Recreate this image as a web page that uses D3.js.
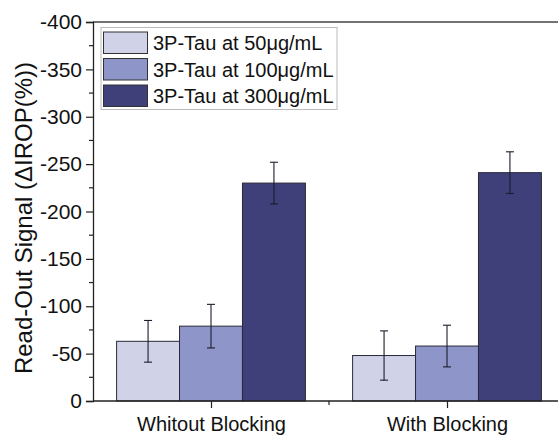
<!DOCTYPE html>
<html>
<head>
<meta charset="utf-8">
<script src="https://cdn.jsdelivr.net/npm/d3@7"></script>
<style>
  html, body { margin: 0; padding: 0; background: #fff; }
  svg { display: block; font-family: "Liberation Sans", Arial, sans-serif; }
</style>
</head>
<body>
<svg id="chart" width="558" height="435"></svg>
<script>
// Groups along the x axis
const groups = ["Whitout Blocking", "With Blocking"];
// Series (one per concentration)
const seriesNames = ["3P-Tau at 50\u03BCg/mL", "3P-Tau at 100\u03BCg/mL", "3P-Tau at 300\u03BCg/mL"];
const seriesColors = ["#d0d2e8", "#8d95c9", "#3f3f7a"];
// Mean read-out signal per group, series order as above
const values50 = [-63, -48];
const values100 = [-79, -58];
const values300 = [-230, -241];
// Error bar half-widths
const errors50 = [22, 26];
const errors100 = [23, 22];
const errors300 = [22, 22];
// Y tick values
const yTicks = [0, -50, -100, -150, -200, -250, -300, -350, -400];

const seriesValues = [values50, values100, values300];
const seriesErrors = [errors50, errors100, errors300];

const svg = d3.select("#chart");
const plotLeft = 93, plotTop = 22, plotBottom = 401, plotRight = 565;
const labelFont = "'Liberation Sans', Arial, sans-serif";

// Reversed y axis: 0 at the bottom, -400 at the top
const y = d3.scaleLinear().domain([0, -400]).range([plotBottom, plotTop]);
// Continuous x position: groups sit at 1 and 2
const x = d3.scaleLinear().domain([0.5, 2.5]).range([plotLeft, plotRight]);
const barW = (x(2) - x(1)) * 0.8 / 3;

// Frame: top line
svg.append("line")
  .attr("x1", plotLeft).attr("x2", plotRight).attr("y1", plotTop).attr("y2", plotTop)
  .attr("stroke", "#444").attr("stroke-width", 1.3);

// Bars
seriesValues.forEach((vals, s) => {
  svg.append("g").selectAll("rect")
    .data(vals)
    .join("rect")
    .attr("x", (d, i) => x(i + 1) + (s - 1.5) * barW)
    .attr("y", d => y(d))
    .attr("width", barW)
    .attr("height", d => y(0) - y(d))
    .attr("fill", seriesColors[s])
    .attr("stroke", "#2a2a3a")
    .attr("stroke-width", 1);
});

// Error bars
seriesValues.forEach((vals, s) => {
  const g = svg.append("g").attr("stroke", "#1c1c2c").attr("stroke-width", 1.1);
  vals.forEach((v, i) => {
    const cx = x(i + 1) + (s - 1) * barW;
    const e = seriesErrors[s][i];
    const yHi = y(v - e), yLo = y(v + e);
    g.append("line").attr("x1", cx).attr("x2", cx).attr("y1", yHi).attr("y2", yLo);
    g.append("line").attr("x1", cx - 4).attr("x2", cx + 4).attr("y1", yHi).attr("y2", yHi);
    g.append("line").attr("x1", cx - 4).attr("x2", cx + 4).attr("y1", yLo).attr("y2", yLo);
  });
});

// Y axis with major and minor ticks
const yAxis = d3.axisLeft(y).tickValues(yTicks).tickSize(7).tickPadding(4)
  .tickFormat(d => String(d));
const gy = svg.append("g").attr("transform", `translate(${plotLeft},0)`).call(yAxis);
gy.attr("font-size", null).attr("font-family", null);
gy.select(".domain").attr("stroke", "#222").attr("stroke-width", 1.3);
gy.selectAll(".tick line").attr("stroke", "#222").attr("stroke-width", 1.2);
gy.selectAll(".tick text")
  .style("font-size", "21px").style("font-family", labelFont).attr("fill", "#111");
const minorY = d3.range(-25, -400, -50);
svg.append("g").selectAll("line").data(minorY).join("line")
  .attr("x1", plotLeft - 4).attr("x2", plotLeft).attr("y1", d => y(d)).attr("y2", d => y(d))
  .attr("stroke", "#222").attr("stroke-width", 1.2);

// X axis
svg.append("line")
  .attr("x1", plotLeft).attr("x2", plotRight).attr("y1", plotBottom).attr("y2", plotBottom)
  .attr("stroke", "#222").attr("stroke-width", 1.3);
const xAxis = d3.axisBottom(x).tickValues([1, 2]).tickFormat(d => groups[d - 1]).tickSize(7).tickPadding(9);
const gx = svg.append("g").attr("transform", `translate(0,${plotBottom})`).call(xAxis);
gx.attr("font-size", null).attr("font-family", null);
gx.select(".domain").remove();
gx.selectAll(".tick line").attr("stroke", "#222").attr("stroke-width", 1.2);
gx.selectAll(".tick text")
  .style("font-size", "20px").style("font-family", labelFont).attr("fill", "#111");
svg.append("g").selectAll("line").data([1.5]).join("line")
  .attr("x1", d => x(d)).attr("x2", d => x(d)).attr("y1", plotBottom).attr("y2", plotBottom + 4)
  .attr("stroke", "#222").attr("stroke-width", 1.2);

// Y axis title
svg.append("text")
  .attr("transform", `translate(32,218) rotate(-90)`)
  .attr("text-anchor", "middle")
  .style("font-size", "24px")
  .attr("fill", "#111")
  .text("Read-Out Signal (\u0394IROP(%))");

// Legend
const lg = svg.append("g");
lg.append("rect").attr("x", 101).attr("y", 27.5).attr("width", 236).attr("height", 82)
  .attr("fill", "#fff").attr("stroke", "#bbb").attr("stroke-width", 1);
seriesNames.forEach((name, s) => {
  const yy = 32 + s * 26.5;
  lg.append("rect").attr("x", 103.5).attr("y", yy).attr("width", 44).attr("height", 21.5)
    .attr("fill", seriesColors[s]).attr("stroke", "#333").attr("stroke-width", 1);
  lg.append("text").attr("x", 153).attr("y", yy + 18).style("font-size", "20px").attr("fill", "#111")
    .text(name);
});
</script>
</body>
</html>
